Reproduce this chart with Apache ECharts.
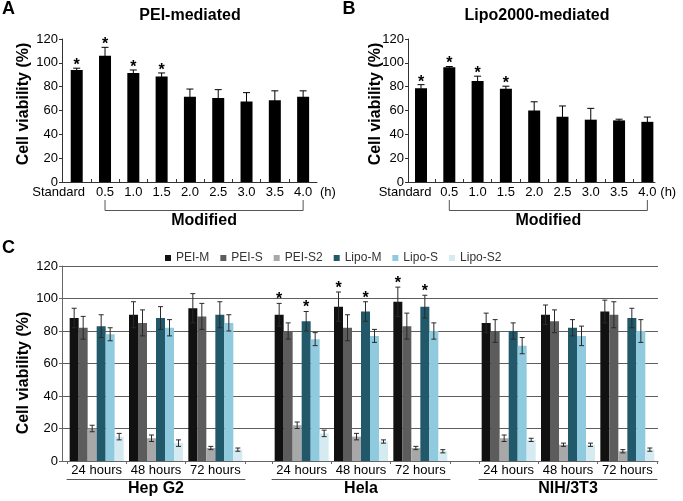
<!DOCTYPE html>
<html><head><meta charset="utf-8">
<script src="https://cdn.jsdelivr.net/npm/echarts@6/dist/echarts.min.js"></script>
<style>html,body{margin:0;padding:0;background:#fff}#main{width:683px;height:501px}</style>
</head><body><div id="main"></div>
<script>
// ---------- Data: panels A and B ----------
const timeCategories = ['Standard', '0.5', '1.0', '1.5', '2.0', '2.5', '3.0', '3.5', '4.0'];
const peiMean  = [94, 106, 91.5, 88.5, 71.5, 70.5, 67.5, 68.5, 71.5];
const peiError = [1.5, 7, 2.5, 3, 6.5, 7, 7.5, 8, 5];
const peiStar  = [1, 1, 1, 1, 0, 0, 0, 0, 0];
const lipoMean  = [78.7, 96.3, 84.8, 78.2, 60, 54.8, 52.3, 51.7, 50.5];
const lipoError = [3, 0.6, 4, 2.2, 7.3, 9, 9.5, 1, 4];
const lipoStar  = [1, 1, 1, 1, 0, 0, 0, 0, 0];
const viabilityTicks = [0, 20, 40, 60, 80, 100, 120];
const yAxisTitle = 'Cell viability (%)';

// ---------- Data: panel C ----------
const treatments = ['PEI-M', 'PEI-S', 'PEI-S2', 'Lipo-M', 'Lipo-S', 'Lipo-S2'];
const hours = ['24 hours', '48 hours', '72 hours'];
const cellLines = ['Hep G2', 'Hela', 'NIH/3T3'];
// rows = treatments, columns = hours
const hepG2Mean  = [[88, 90, 94], [82, 85, 89], [20, 14, 8], [83, 88, 90], [78, 82, 85], [15, 11, 7]];
const hepG2Error = [[6, 8, 9], [7, 8, 8], [2, 2, 1], [7, 7, 8], [4, 5, 5], [2, 2, 1]];
const hepG2Star  = [[0, 0, 0], [0, 0, 0], [0, 0, 0], [0, 0, 0], [0, 0, 0], [0, 0, 0]];
const helaMean  = [[90, 95, 98], [80, 82, 83], [22, 15, 8], [86, 92, 95], [75, 77, 80], [17, 12, 6]];
const helaError = [[7, 9, 9], [5, 8, 8], [2, 2, 1], [6, 6, 7], [4, 4, 5], [2, 1, 1]];
const helaStar  = [[1, 1, 1], [0, 0, 0], [0, 0, 0], [1, 1, 1], [0, 0, 0], [0, 0, 0]];
const nihMean  = [[85, 90, 92], [80, 86, 90], [14, 10, 6], [80, 82, 88], [71, 77, 80], [13, 10, 7]];
const nihError = [[6, 6, 7], [7, 7, 8], [2, 1, 1], [5, 5, 6], [5, 6, 7], [1, 1, 1]];
const nihStar  = [[0, 0, 0], [0, 0, 0], [0, 0, 0], [0, 0, 0], [0, 0, 0], [0, 0, 0]];

// ---------- Styles ----------
const FONT = 'Liberation Sans, Arial, Helvetica, sans-serif';
const treatmentColors = ['#111111', '#5c5c5c', '#a8a8a8', '#21596b', '#90cadf', '#d6eaf2'];
const C_BAR_W = 9;
const AB_BAR_W = 12;
const cellGroups = [
  { mean: hepG2Mean, err: hepG2Error, star: hepG2Star },
  { mean: helaMean, err: helaError, star: helaStar },
  { mean: nihMean, err: nihError, star: nihStar }
];

const chart = echarts.init(document.getElementById('main'));

function yAxisAB(gridIndex) {
  return {
    type: 'value', gridIndex, min: viabilityTicks[0], max: viabilityTicks[viabilityTicks.length - 1],
    interval: viabilityTicks[1] - viabilityTicks[0],
    axisLine: { show: true, onZero: false, lineStyle: { color: '#333', width: 1 } },
    axisTick: { show: true, length: 3, lineStyle: { color: '#333' } },
    axisLabel: { fontSize: 13, color: '#000', margin: 4, fontFamily: FONT },
    splitLine: { show: false }
  };
}
function xAxisAB(gridIndex, min, max, padRight) {
  return {
    type: 'value', gridIndex, min, max,
    axisLine: { show: true, onZero: false, lineStyle: { color: '#333', width: 1 } },
    axisTick: { show: true, inside: true, length: 3, lineStyle: { color: '#333' },
      customValues: timeCategories.slice(1).map((c, i) => i + 0.5) },
    axisLabel: {
      fontSize: 13, color: '#000', margin: 4, fontFamily: FONT,
      customValues: timeCategories.map((c, i) => i),
      formatter: v => { const i = Math.round(v); return i === 0 ? '{s|' + timeCategories[0] + '}' : timeCategories[i]; },
      rich: { s: { fontSize: 13, color: '#000', fontFamily: FONT, padding: [0, padRight, 0, 0] } }
    },
    splitLine: { show: false },
    name: '(h)', nameLocation: 'end', nameGap: 3,
    nameTextStyle: { fontSize: 13, color: '#000', fontFamily: FONT, verticalAlign: 'top', padding: [4, 0, 0, 0] }
  };
}

function renderErrAB(params, api) {
  const x = api.value(0), m = api.value(1), e = api.value(2), s = api.value(3);
  const top = api.coord([x, m + e]), bot = api.coord([x, m - e]);
  const cx = top[0];
  const children = [
    { type: 'line', shape: { x1: cx, y1: top[1], x2: cx, y2: bot[1] }, style: { stroke: '#000', lineWidth: 1 } },
    { type: 'line', shape: { x1: cx - 3.5, y1: top[1], x2: cx + 3.5, y2: top[1] }, style: { stroke: '#000', lineWidth: 1 } }
  ];
  if (s) children.push({ type: 'text', style: { text: '*', x: cx, y: top[1] - 2.5, align: 'center', verticalAlign: 'middle',
    fontSize: 16, fontWeight: 'bold', fontFamily: FONT, fill: '#000' } });
  return { type: 'group', children };
}
function renderBracket(params, api) {
  const a = api.coord([api.value(0), 0]), b = api.coord([api.value(1), 0]);
  const y0 = a[1] + 18, y1 = a[1] + 28.5;
  return { type: 'group', children: [
    { type: 'polyline', shape: { points: [[a[0], y0], [a[0], y1], [b[0], y1], [b[0], y0]] }, style: { stroke: '#555', lineWidth: 1, fill: null } },
    { type: 'text', style: { text: 'Modified', x: (a[0] + b[0]) / 2, y: a[1] + 39, align: 'center', verticalAlign: 'middle',
      fontSize: 16, fontWeight: 'bold', fontFamily: FONT, fill: '#000' } }
  ] };
}
function renderErrC(params, api) {
  const h = api.value(0), m = api.value(1), e = api.value(2), t = api.value(3), s = api.value(4);
  const top = api.coord([h, m + e]), bot = api.coord([h, m - e]);
  const cx = top[0] + (t - (treatments.length - 1) / 2) * C_BAR_W;
  const st = { stroke: '#2a2a2a', lineWidth: 1 };
  const children = [
    { type: 'line', shape: { x1: cx, y1: top[1], x2: cx, y2: bot[1] }, style: st },
    { type: 'line', shape: { x1: cx - 2.5, y1: top[1], x2: cx + 2.5, y2: top[1] }, style: st },
    { type: 'line', shape: { x1: cx - 2.5, y1: bot[1], x2: cx + 2.5, y2: bot[1] }, style: st }
  ];
  if (s) children.push({ type: 'text', style: { text: '*', x: cx, y: top[1] - 3.5, align: 'center', verticalAlign: 'middle',
    fontSize: 16, fontWeight: 'bold', fontFamily: FONT, fill: '#000' } });
  return { type: 'group', children };
}

const grids = [
  { left: 62, top: 39, width: 255, height: 143 },
  { left: 408, top: 39, width: 247, height: 143 },
  { left: 62, top: 266, width: 596, height: 195 },
  { left: 67, top: 266, width: 178, height: 195 },
  { left: 272, top: 266, width: 178, height: 195 },
  { left: 479, top: 266, width: 178, height: 195 }
];

const xAxes = [
  xAxisAB(0, -0.52, 8.49, 36),
  xAxisAB(1, -0.46, 8.27, 32),
  { type: 'value', gridIndex: 2, min: 0, max: 1, axisLine: { show: true, onZero: false, lineStyle: { color: '#666' } },
    axisTick: { show: false }, axisLabel: { show: false }, splitLine: { show: false } }
];
cellLines.forEach((cl, g) => {
  xAxes.push({ type: 'category', gridIndex: 3 + g, data: hours,
    axisLine: { show: false, onZero: false }, axisTick: { show: true, length: 3, lineStyle: { color: '#666' } },
    axisLabel: { fontSize: 13, color: '#000', margin: 3, fontFamily: FONT, interval: 0 }, splitLine: { show: false } });
});
cellLines.forEach((cl, g) => {
  xAxes.push({ type: 'category', gridIndex: 3 + g, data: [cl], position: 'bottom', offset: 18,
    axisLine: { show: true, onZero: false, lineStyle: { color: '#555' } }, axisTick: { show: false },
    axisLabel: { fontSize: 16, fontWeight: 'bold', color: '#000', margin: 2, fontFamily: FONT, interval: 0 } });
});

const yAxes = [
  yAxisAB(0),
  yAxisAB(1),
  { type: 'value', gridIndex: 2, min: 0, max: 120, interval: 20,
    axisLine: { show: true, onZero: false, lineStyle: { color: '#666' } },
    axisTick: { show: true, length: 3, lineStyle: { color: '#666' } },
    axisLabel: { fontSize: 13, color: '#000', margin: 4, fontFamily: FONT },
    splitLine: { show: true, lineStyle: { color: '#5e5e5e', width: 1 } } }
];
cellLines.forEach((cl, g) => yAxes.push({ type: 'value', gridIndex: 3 + g, min: 0, max: 120, show: false, splitLine: { show: false } }));

const series = [];
[[peiMean, peiError, peiStar, 0], [lipoMean, lipoError, lipoStar, 1]].forEach(([mean, err, star, gi]) => {
  series.push({ type: 'bar', xAxisIndex: gi, yAxisIndex: gi, barWidth: AB_BAR_W, itemStyle: { color: '#000' },
    data: mean.map((v, i) => [i, v]), silent: true });
  series.push({ type: 'custom', xAxisIndex: gi, yAxisIndex: gi, renderItem: renderErrAB, clip: false, z: 5,
    data: mean.map((v, i) => [i, v, err[i], star[i]]) });
  series.push({ type: 'custom', xAxisIndex: gi, yAxisIndex: gi, renderItem: renderBracket, clip: false,
    data: [[1, timeCategories.length - 1]] });
});
cellGroups.forEach((grp, g) => {
  treatments.forEach((name, t) => {
    series.push({ type: 'bar', name, xAxisIndex: 3 + g, yAxisIndex: 3 + g, barWidth: C_BAR_W, barGap: '0%',
      itemStyle: { color: treatmentColors[t] }, data: grp.mean[t] });
  });
  const errData = [];
  treatments.forEach((name, t) => hours.forEach((h, i) => errData.push([i, grp.mean[t][i], grp.err[t][i], t, grp.star[t][i]])));
  series.push({ type: 'custom', xAxisIndex: 3 + g, yAxisIndex: 3 + g, renderItem: renderErrC, clip: false, z: 5, data: errData });
});

function textEl(text, x, y, size, rotation) {
  return { type: 'text', x, y, rotation: rotation || 0,
    style: { text, align: 'center', verticalAlign: 'middle', fontSize: size, fontWeight: 'bold', fontFamily: FONT, fill: '#000' } };
}

chart.setOption({
  animation: false,
  textStyle: { fontFamily: FONT },
  grid: grids,
  xAxis: xAxes,
  yAxis: yAxes,
  legend: { data: treatments, left: 160, top: 247, icon: 'rect', itemWidth: 6, itemHeight: 6, itemGap: 11,
    textStyle: { fontSize: 12, color: '#333', fontFamily: FONT }, selectedMode: false },
  graphic: [
    textEl('A', 8.5, 9, 18),
    textEl('B', 349, 9, 18),
    textEl('C', 8.5, 248, 18),
    textEl('PEI-mediated', 190, 16, 16),
    textEl('Lipo2000-mediated', 537, 16, 16),
    textEl(yAxisTitle, 24, 104, 16, Math.PI / 2),
    textEl(yAxisTitle, 376, 104, 16, Math.PI / 2),
    textEl(yAxisTitle, 24, 373, 16, Math.PI / 2)
  ],
  series
});
</script></body></html>
